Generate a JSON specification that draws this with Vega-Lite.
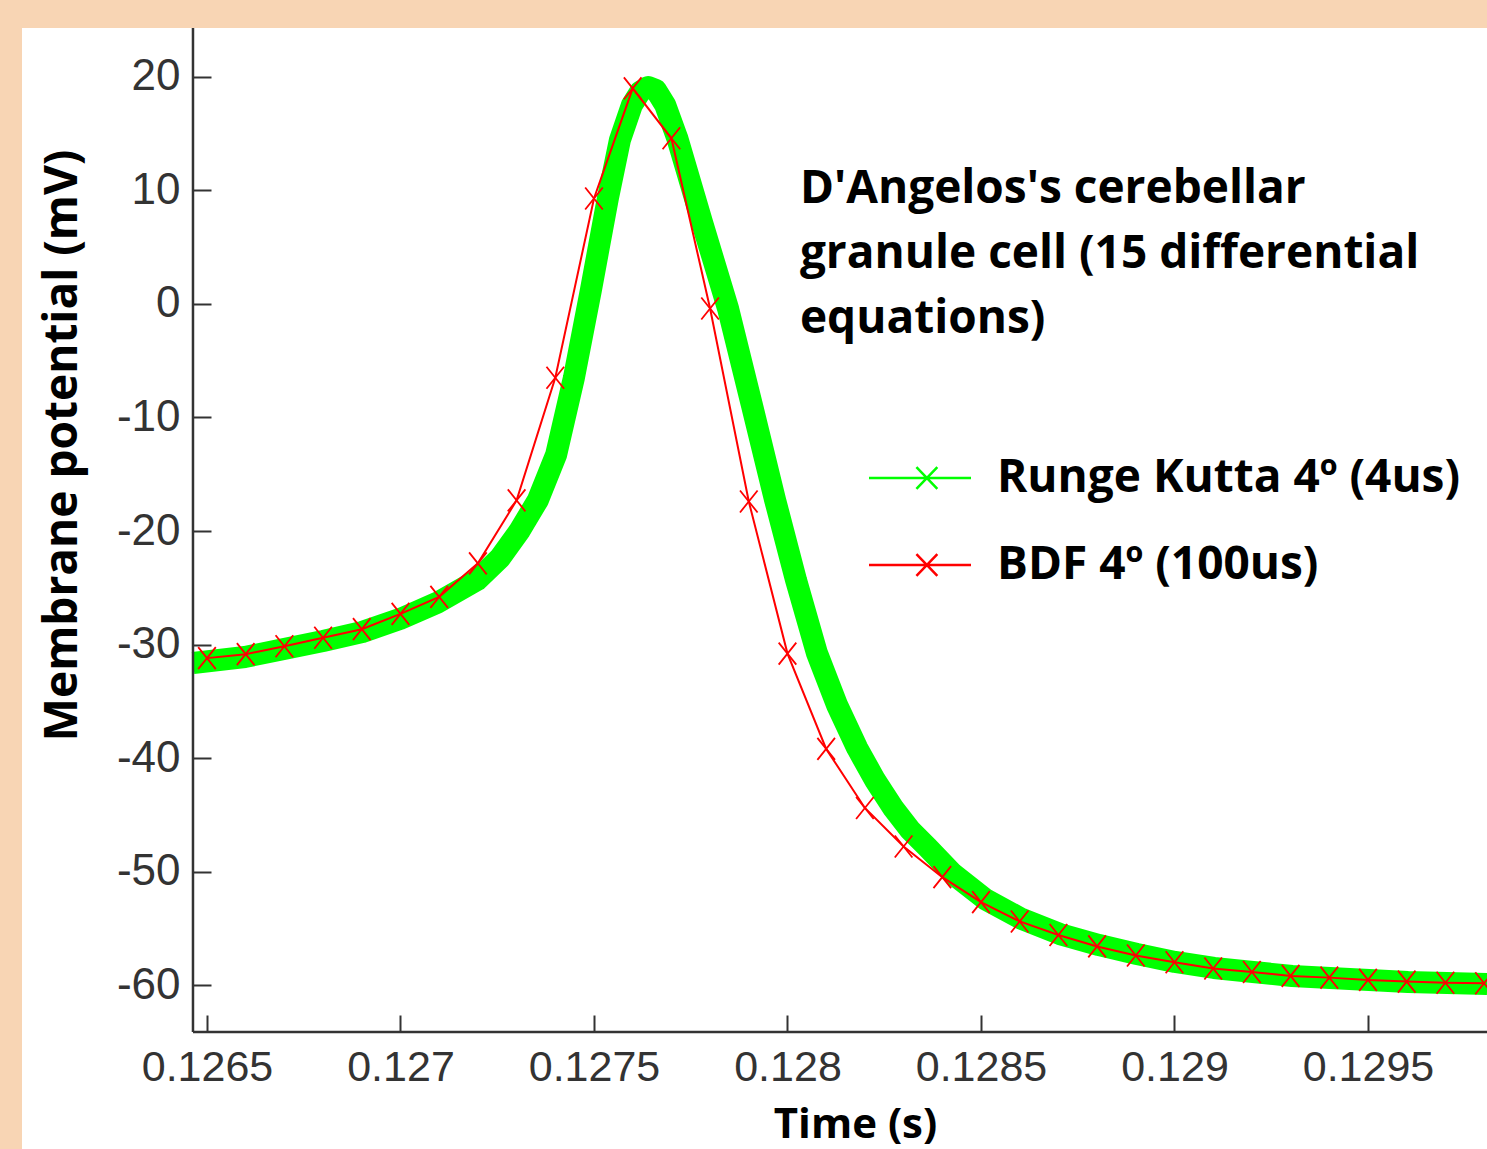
{
  "$schema": "https://vega.github.io/schema/vega-lite/v6.json",
  "width": 1465,
  "height": 1121,
  "autosize": {"type": "none"},
  "padding": {"left": 22, "top": 28, "right": 0, "bottom": 0},
  "config": {
    "background": "#F8D5B4",
    "view": {"fill": "white", "stroke": null},
    "axis": {"grid": false}
  },
  "datasets": {
    "rk": [
      {"t": 0.126464, "v": -31.63, "s": "Runge Kutta 4º (4us)"},
      {"t": 0.126598, "v": -31.10, "s": "Runge Kutta 4º (4us)"},
      {"t": 0.126699, "v": -30.40, "s": "Runge Kutta 4º (4us)"},
      {"t": 0.126800, "v": -29.69, "s": "Runge Kutta 4º (4us)"},
      {"t": 0.126901, "v": -28.90, "s": "Runge Kutta 4º (4us)"},
      {"t": 0.126999, "v": -27.75, "s": "Runge Kutta 4º (4us)"},
      {"t": 0.127094, "v": -26.34, "s": "Runge Kutta 4º (4us)"},
      {"t": 0.127198, "v": -24.32, "s": "Runge Kutta 4º (4us)"},
      {"t": 0.127257, "v": -22.38, "s": "Runge Kutta 4º (4us)"},
      {"t": 0.127309, "v": -19.91, "s": "Runge Kutta 4º (4us)"},
      {"t": 0.127355, "v": -17.27, "s": "Runge Kutta 4º (4us)"},
      {"t": 0.127402, "v": -13.30, "s": "Runge Kutta 4º (4us)"},
      {"t": 0.127448, "v": -6.52, "s": "Runge Kutta 4º (4us)"},
      {"t": 0.127492, "v": 1.23, "s": "Runge Kutta 4º (4us)"},
      {"t": 0.127536, "v": 9.34, "s": "Runge Kutta 4º (4us)"},
      {"t": 0.127567, "v": 14.45, "s": "Runge Kutta 4º (4us)"},
      {"t": 0.127598, "v": 17.53, "s": "Runge Kutta 4º (4us)"},
      {"t": 0.127619, "v": 18.68, "s": "Runge Kutta 4º (4us)"},
      {"t": 0.127640, "v": 19.12, "s": "Runge Kutta 4º (4us)"},
      {"t": 0.127660, "v": 18.85, "s": "Runge Kutta 4º (4us)"},
      {"t": 0.127684, "v": 17.53, "s": "Runge Kutta 4º (4us)"},
      {"t": 0.127715, "v": 14.63, "s": "Runge Kutta 4º (4us)"},
      {"t": 0.127779, "v": 7.22, "s": "Runge Kutta 4º (4us)"},
      {"t": 0.127846, "v": -0.35, "s": "Runge Kutta 4º (4us)"},
      {"t": 0.127908, "v": -8.90, "s": "Runge Kutta 4º (4us)"},
      {"t": 0.127968, "v": -17.27, "s": "Runge Kutta 4º (4us)"},
      {"t": 0.128022, "v": -24.32, "s": "Runge Kutta 4º (4us)"},
      {"t": 0.128076, "v": -30.75, "s": "Runge Kutta 4º (4us)"},
      {"t": 0.128128, "v": -35.33, "s": "Runge Kutta 4º (4us)"},
      {"t": 0.128180, "v": -39.12, "s": "Runge Kutta 4º (4us)"},
      {"t": 0.128226, "v": -41.94, "s": "Runge Kutta 4º (4us)"},
      {"t": 0.128273, "v": -44.41, "s": "Runge Kutta 4º (4us)"},
      {"t": 0.128317, "v": -46.34, "s": "Runge Kutta 4º (4us)"},
      {"t": 0.128361, "v": -47.84, "s": "Runge Kutta 4º (4us)"},
      {"t": 0.128428, "v": -50.22, "s": "Runge Kutta 4º (4us)"},
      {"t": 0.128510, "v": -52.42, "s": "Runge Kutta 4º (4us)"},
      {"t": 0.128606, "v": -54.19, "s": "Runge Kutta 4º (4us)"},
      {"t": 0.128704, "v": -55.51, "s": "Runge Kutta 4º (4us)"},
      {"t": 0.128805, "v": -56.48, "s": "Runge Kutta 4º (4us)"},
      {"t": 0.128903, "v": -57.27, "s": "Runge Kutta 4º (4us)"},
      {"t": 0.129001, "v": -57.97, "s": "Runge Kutta 4º (4us)"},
      {"t": 0.129102, "v": -58.50, "s": "Runge Kutta 4º (4us)"},
      {"t": 0.129203, "v": -58.85, "s": "Runge Kutta 4º (4us)"},
      {"t": 0.129304, "v": -59.21, "s": "Runge Kutta 4º (4us)"},
      {"t": 0.129402, "v": -59.38, "s": "Runge Kutta 4º (4us)"},
      {"t": 0.129503, "v": -59.56, "s": "Runge Kutta 4º (4us)"},
      {"t": 0.129603, "v": -59.74, "s": "Runge Kutta 4º (4us)"},
      {"t": 0.129704, "v": -59.82, "s": "Runge Kutta 4º (4us)"},
      {"t": 0.129808, "v": -59.91, "s": "Runge Kutta 4º (4us)"}
    ],
    "bdf": [
      {"t": 0.1265, "v": -31.2, "s": "BDF 4º (100us)"},
      {"t": 0.1266, "v": -30.85, "s": "BDF 4º (100us)"},
      {"t": 0.1267, "v": -30.15, "s": "BDF 4º (100us)"},
      {"t": 0.1268, "v": -29.4, "s": "BDF 4º (100us)"},
      {"t": 0.1269, "v": -28.65, "s": "BDF 4º (100us)"},
      {"t": 0.1270, "v": -27.3, "s": "BDF 4º (100us)"},
      {"t": 0.1271, "v": -25.8, "s": "BDF 4º (100us)"},
      {"t": 0.1272, "v": -22.85, "s": "BDF 4º (100us)"},
      {"t": 0.1273, "v": -17.3, "s": "BDF 4º (100us)"},
      {"t": 0.1274, "v": -6.5, "s": "BDF 4º (100us)"},
      {"t": 0.1275, "v": 9.3, "s": "BDF 4º (100us)"},
      {"t": 0.1276, "v": 19.0, "s": "BDF 4º (100us)"},
      {"t": 0.1277, "v": 14.6, "s": "BDF 4º (100us)"},
      {"t": 0.1278, "v": -0.4, "s": "BDF 4º (100us)"},
      {"t": 0.1279, "v": -17.4, "s": "BDF 4º (100us)"},
      {"t": 0.1280, "v": -30.8, "s": "BDF 4º (100us)"},
      {"t": 0.1281, "v": -39.2, "s": "BDF 4º (100us)"},
      {"t": 0.1282, "v": -44.4, "s": "BDF 4º (100us)"},
      {"t": 0.1283, "v": -47.8, "s": "BDF 4º (100us)"},
      {"t": 0.1284, "v": -50.5, "s": "BDF 4º (100us)"},
      {"t": 0.1285, "v": -52.7, "s": "BDF 4º (100us)"},
      {"t": 0.1286, "v": -54.4, "s": "BDF 4º (100us)"},
      {"t": 0.1287, "v": -55.6, "s": "BDF 4º (100us)"},
      {"t": 0.1288, "v": -56.6, "s": "BDF 4º (100us)"},
      {"t": 0.1289, "v": -57.4, "s": "BDF 4º (100us)"},
      {"t": 0.1290, "v": -58.0, "s": "BDF 4º (100us)"},
      {"t": 0.1291, "v": -58.55, "s": "BDF 4º (100us)"},
      {"t": 0.1292, "v": -58.85, "s": "BDF 4º (100us)"},
      {"t": 0.1293, "v": -59.2, "s": "BDF 4º (100us)"},
      {"t": 0.1294, "v": -59.35, "s": "BDF 4º (100us)"},
      {"t": 0.1295, "v": -59.55, "s": "BDF 4º (100us)"},
      {"t": 0.1296, "v": -59.7, "s": "BDF 4º (100us)"},
      {"t": 0.1297, "v": -59.8, "s": "BDF 4º (100us)"},
      {"t": 0.1298, "v": -59.85, "s": "BDF 4º (100us)"}
    ]
  },
  "layer": [
    {
      "data": {"name": "rk"},
      "mark": {"type": "line", "strokeWidth": 22, "strokeJoin": "round", "strokeCap": "butt", "clip": true},
      "encoding": {
        "x": {
          "field": "t", "type": "quantitative",
          "scale": {"domain": [0.126022, 0.1298075], "nice": false, "zero": false},
          "axis": {
            "orient": "bottom", "offset": -117, "domain": false,
            "values": [0.1265, 0.127, 0.1275, 0.128, 0.1285, 0.129, 0.1295],
            "labelExpr": "'' + datum.value",
            "tickSize": -17, "tickWidth": 2, "tickColor": "#333333",
            "labelFont": "Liberation Sans", "labelFontSize": 43, "labelColor": "#333333",
            "labelPadding": 31, "labelFlush": false, "labelOverlap": false,
            "title": "Time (s)", "titleFont": "Open Sans", "titleFontWeight": "bold", "titleFontSize": 42,
            "titleColor": "black", "titleX": 833, "titleY": 105, "titleBaseline": "alphabetic", "titleAlign": "center"
          }
        },
        "y": {
          "field": "v", "type": "quantitative",
          "scale": {"domain": [-74.449, 24.317], "nice": false, "zero": false},
          "axis": {
            "orient": "left", "offset": -171, "domain": false,
            "values": [-60, -50, -40, -30, -20, -10, 0, 10, 20],
            "labelExpr": "'' + datum.value",
            "tickSize": -18, "tickWidth": 2, "tickColor": "#333333",
            "labelFont": "Liberation Sans", "labelFontSize": 44, "labelColor": "#333333",
            "labelPadding": 31, "labelFlush": false, "labelOverlap": false,
            "title": "Membrane potential (mV)", "titleFont": "Open Sans", "titleFontWeight": "bold", "titleFontSize": 46,
            "titleColor": "black", "titleX": -131, "titleY": 417, "titleBaseline": "middle", "titleAlign": "center", "titleAngle": 270
          }
        },
        "color": {
          "field": "s", "type": "nominal",
          "scale": {"domain": ["Runge Kutta 4º (4us)", "BDF 4º (100us)"], "range": ["#00ff00", "#ff0000"]},
          "legend": {
            "orient": "none", "legendX": 871, "legendY": 423, "title": null,
            "symbolType": "M-2,0L2,0M-0.14,-0.43L0.68,0.43M-0.14,0.43L0.68,-0.43",
            "symbolSize": 2601, "symbolStrokeWidth": 2.5, "symbolFillColor": "transparent",
            "labelFont": "Open Sans", "labelFontWeight": "bold", "labelFontSize": 46, "labelColor": "black",
            "labelOffset": 50, "rowPadding": 37, "labelLimit": 0
          }
        }
      }
    },
    {
      "data": {"name": "bdf"},
      "mark": {"type": "line", "strokeWidth": 2, "clip": true},
      "encoding": {
        "x": {"field": "t", "type": "quantitative", "title": "Time (s)"},
        "y": {"field": "v", "type": "quantitative", "title": "Membrane potential (mV)"},
        "color": {"field": "s", "type": "nominal"}
      }
    },
    {
      "data": {"name": "bdf"},
      "mark": {"type": "point", "shape": "M-0.8,-1L0.8,1M-0.8,1L0.8,-1", "size": 484, "filled": false, "strokeWidth": 1.8, "opacity": 1, "clip": true},
      "encoding": {
        "x": {"field": "t", "type": "quantitative", "title": "Time (s)"},
        "y": {"field": "v", "type": "quantitative", "title": "Membrane potential (mV)"},
        "color": {"field": "s", "type": "nominal"}
      }
    },
    {
      "data": {"values": [{}]},
      "mark": {"type": "rule", "color": "#333333", "strokeWidth": 2.5},
      "encoding": {
        "x": {"datum": 0.1264638, "type": "quantitative", "title": "Time (s)"},
        "y": {"datum": -64.14, "type": "quantitative", "title": "Membrane potential (mV)"},
        "y2": {"datum": 24.317}
      }
    },
    {
      "data": {"values": [{}]},
      "mark": {"type": "rule", "color": "#333333", "strokeWidth": 2.5},
      "encoding": {
        "x": {"datum": 0.1264638, "type": "quantitative", "title": "Time (s)"},
        "x2": {"datum": 0.1298075},
        "y": {"datum": -64.14, "type": "quantitative", "title": "Membrane potential (mV)"}
      }
    },
    {
      "data": {"values": [{}]},
      "mark": {
        "type": "text", "align": "left", "baseline": "alphabetic", "lineHeight": 65,
        "font": "Open Sans", "fontWeight": "bold", "fontSize": 46, "color": "black",
        "text": ["D'Angelos's cerebellar", "granule cell (15 differential", "equations)"]
      },
      "encoding": {
        "x": {"datum": 0.128032, "type": "quantitative", "title": "Time (s)"},
        "y": {"datum": 8.9, "type": "quantitative", "title": "Membrane potential (mV)"}
      }
    }
  ]
}
